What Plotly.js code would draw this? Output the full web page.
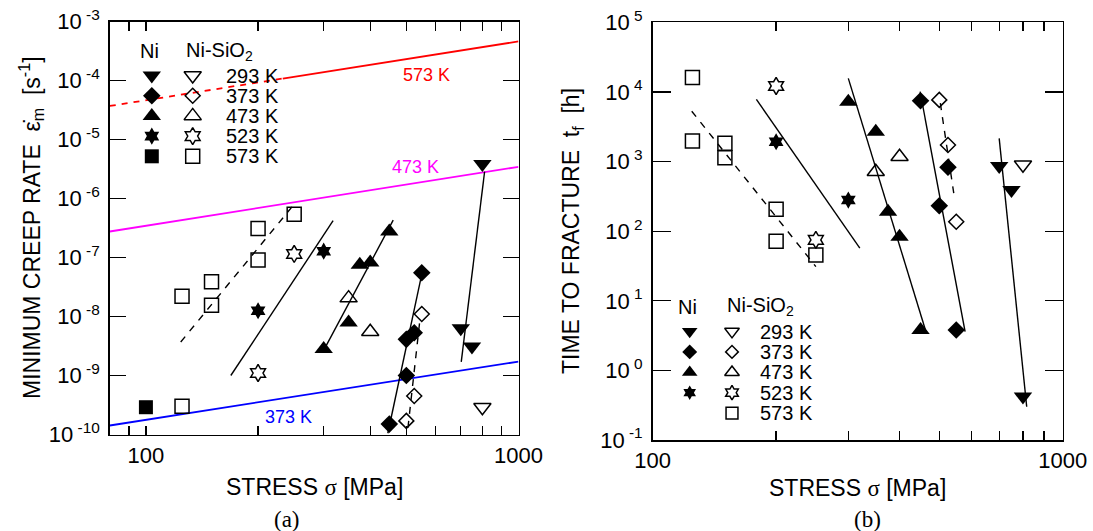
<!DOCTYPE html>
<html><head><meta charset="utf-8">
<script src="https://cdn.plot.ly/plotly-3.0.1.min.js"></script>
<style>html,body{margin:0;padding:0;background:#fff;overflow:hidden}#chart{width:1093px;height:531px}</style>
</head><body><div id="chart"></div>
<script>
// ================= DATA =================
const TEMP_LABELS = ['293 K', '373 K', '473 K', '523 K', '573 K'];

// Panel (a): minimum creep rate [1/s] vs stress [MPa]
const A_NI_293_STRESS = [700, 750, 800];
const A_NI_293_RATE   = [6.3e-9, 3.1e-9, 3.85e-6];
const A_NI_373_STRESS = [450, 500, 500, 525, 550];
const A_NI_373_RATE   = [1.5e-10, 1.0e-9, 4.1e-9, 5.3e-9, 5.5e-8];
const A_NI_473_STRESS = [300, 350, 375, 400, 450];
const A_NI_473_RATE   = [2.8e-9, 7.9e-9, 7.5e-8, 8.2e-8, 2.75e-7];
const A_NI_523_STRESS = [200, 300];
const A_NI_523_RATE   = [1.25e-8, 1.28e-7];
const A_NI_573_STRESS = [100];
const A_NI_573_RATE   = [2.9e-10];

const A_SI_293_STRESS = [800];
const A_SI_293_RATE   = [2.9e-10];
const A_SI_373_STRESS = [500, 525, 550];
const A_SI_373_RATE   = [1.7e-10, 4.5e-10, 1.1e-8];
const A_SI_473_STRESS = [350, 400];
const A_SI_473_RATE   = [2.05e-8, 5.5e-9];
const A_SI_523_STRESS = [200, 250];
const A_SI_523_RATE   = [1.1e-9, 1.15e-7];
const A_SI_573_STRESS = [125, 125, 150, 150, 200, 200, 250];
const A_SI_573_RATE   = [3.0e-10, 2.2e-8, 1.55e-8, 3.9e-8, 9.1e-8, 3.1e-7, 5.4e-7];

// Panel (a) fitted lines
const A_FIT_NI_293_STRESS = [702, 811];   const A_FIT_NI_293_RATE = [1.7e-9, 2.85e-6];
const A_FIT_NI_373_STRESS = [446, 551];   const A_FIT_NI_373_RATE = [1.05e-10, 5.5e-8];
const A_FIT_SI_373_STRESS = [505, 545];   const A_FIT_SI_373_RATE = [1.3e-10, 1.0e-8];
const A_FIT_NI_473_STRESS = [303, 461];   const A_FIT_NI_473_RATE = [3.0e-9, 4.3e-7];
const A_FIT_NI_523_STRESS = [169, 318];   const A_FIT_NI_523_RATE = [1.0e-9, 4.2e-7];
const A_FIT_SI_573_STRESS = [124, 250];   const A_FIT_SI_573_RATE = [3.7e-9, 8.0e-7];

// Panel (a) reference (theory) lines
const A_TH_573_DASH_STRESS = [80, 233];   const A_TH_573_DASH_RATE = [3.7e-5, 1.08e-4];
const A_TH_573_SOLID_STRESS = [233, 1000]; const A_TH_573_SOLID_RATE = [1.08e-4, 4.6e-4];
const A_TH_473_STRESS = [80, 1000];        const A_TH_473_RATE = [2.76e-7, 3.44e-6];
const A_TH_373_STRESS = [80, 1000];        const A_TH_373_RATE = [1.42e-10, 1.72e-9];

// Panel (b): time to fracture [h] vs stress [MPa]
const B_NI_293_STRESS = [700, 750, 800];
const B_NI_293_TIME   = [865, 391, 0.42];
const B_NI_373_STRESS = [450, 500, 525, 550];
const B_NI_373_TIME   = [7500, 232, 828, 3.8];
const B_NI_473_STRESS = [300, 350, 375, 400, 450];
const B_NI_473_TIME   = [7260, 2690, 190, 83, 3.8];
const B_NI_523_STRESS = [200, 300];
const B_NI_523_TIME   = [1930, 280];

const B_SI_293_STRESS = [800];
const B_SI_293_TIME   = [900];
const B_SI_373_STRESS = [500, 525, 550];
const B_SI_373_TIME   = [7700, 1730, 137];
const B_SI_473_STRESS = [350, 400];
const B_SI_473_TIME   = [716, 1175];
const B_SI_523_STRESS = [200, 250];
const B_SI_523_TIME   = [12200, 75];
const B_SI_573_STRESS = [125, 125, 150, 150, 200, 200, 250];
const B_SI_573_TIME   = [16200, 1980, 1830, 1140, 206, 72, 45.5];

// Panel (b) fitted lines
const B_FIT_NI_293_STRESS = [700, 817];   const B_FIT_NI_293_TIME = [2160, 0.30];
const B_FIT_NI_373_STRESS = [449, 578];   const B_FIT_NI_373_TIME = [10090, 3.6];
const B_FIT_SI_373_STRESS = [503, 545];   const B_FIT_SI_373_TIME = [6900, 290];
const B_FIT_NI_473_STRESS = [300, 464];   const B_FIT_NI_473_TIME = [15700, 3.6];
const B_FIT_NI_523_STRESS = [179, 320];   const B_FIT_NI_523_TIME = [7850, 57];
const B_FIT_SI_573_STRESS = [124.5, 250]; const B_FIT_SI_573_TIME = [5300, 31];

// Tick values / labels
const A_X_LABELED = [100, 1000];
const A_X_MINOR = [90, 200, 300, 400, 500, 600, 700, 800, 900];
const A_Y_EXPONENTS = [-10, -9, -8, -7, -6, -5, -4, -3];
const B_X_LABELED = [100, 1000];
const B_X_MINOR = [200, 300, 400, 500, 600, 700, 800, 900];
const B_Y_EXPONENTS = [-1, 0, 1, 2, 3, 4, 5];
const B_Y_MINOR_MANTISSA = [2, 3, 4, 5, 6, 7, 8, 9];

// ================= STYLE / LAYOUT CONFIG =================
const W = 1093, H = 531;
const FONT = 'Liberation Sans, Arial, sans-serif';
const SERIF = 'Liberation Serif, Times New Roman, serif';
const SYM = ['triangle-down', 'diamond', 'triangle-up', 'hexagram', 'square'];
const SIZE_FILLED = [16, 13.5, 16, 13, 14];
const SIZE_OPEN = [15, 11.5, 15, 13, 14];

const traces = [];
function line(xa, ya, x, y, color, width, dash) {
  traces.push({type: 'scatter', mode: 'lines', x: x, y: y, xaxis: xa, yaxis: ya,
    line: {color: color, width: width, dash: dash || 'solid'}, hoverinfo: 'skip', showlegend: false});
}
function pts(xa, ya, x, y, k, open, scale) {
  const s = scale || 1;
  traces.push({type: 'scatter', mode: 'markers', x: x, y: y, xaxis: xa, yaxis: ya, cliponaxis: false,
    marker: {symbol: open ? SYM[k] + '-open' : SYM[k], size: (open ? SIZE_OPEN[k] : SIZE_FILLED[k]) * s,
      color: '#000', line: {color: '#000', width: open ? 1.5 : 0}},
    hoverinfo: 'skip', showlegend: false});
}

// ---- panel (a) lines ----
line('x', 'y', A_TH_573_DASH_STRESS, A_TH_573_DASH_RATE, '#ff0000', 1.8, '6px,6px');
line('x', 'y', A_TH_573_SOLID_STRESS, A_TH_573_SOLID_RATE, '#ff0000', 1.8);
line('x', 'y', A_TH_473_STRESS, A_TH_473_RATE, '#ff00ff', 1.8);
line('x', 'y', A_TH_373_STRESS, A_TH_373_RATE, '#0000ff', 1.8);
line('x', 'y', A_FIT_NI_293_STRESS, A_FIT_NI_293_RATE, '#000', 1.4);
line('x', 'y', A_FIT_NI_373_STRESS, A_FIT_NI_373_RATE, '#000', 1.4);
line('x', 'y', A_FIT_SI_373_STRESS, A_FIT_SI_373_RATE, '#000', 1.4, '7px,7px');
line('x', 'y', A_FIT_NI_473_STRESS, A_FIT_NI_473_RATE, '#000', 1.4);
line('x', 'y', A_FIT_NI_523_STRESS, A_FIT_NI_523_RATE, '#000', 1.4);
line('x', 'y', A_FIT_SI_573_STRESS, A_FIT_SI_573_RATE, '#000', 1.4, '7px,7px');
// ---- panel (a) points ----
pts('x', 'y', A_NI_293_STRESS, A_NI_293_RATE, 0, false);
pts('x', 'y', A_NI_373_STRESS, A_NI_373_RATE, 1, false);
pts('x', 'y', A_NI_473_STRESS, A_NI_473_RATE, 2, false);
pts('x', 'y', A_NI_523_STRESS, A_NI_523_RATE, 3, false);
pts('x', 'y', A_NI_573_STRESS, A_NI_573_RATE, 4, false);
pts('x', 'y', A_SI_293_STRESS, A_SI_293_RATE, 0, true);
pts('x', 'y', A_SI_373_STRESS, A_SI_373_RATE, 1, true);
pts('x', 'y', A_SI_473_STRESS, A_SI_473_RATE, 2, true);
pts('x', 'y', A_SI_523_STRESS, A_SI_523_RATE, 3, true);
pts('x', 'y', A_SI_573_STRESS, A_SI_573_RATE, 4, true);

// ---- panel (b) lines ----
line('x2', 'y2', B_FIT_NI_293_STRESS, B_FIT_NI_293_TIME, '#000', 1.4);
line('x2', 'y2', B_FIT_NI_373_STRESS, B_FIT_NI_373_TIME, '#000', 1.4);
line('x2', 'y2', B_FIT_SI_373_STRESS, B_FIT_SI_373_TIME, '#000', 1.4, '7px,7px');
line('x2', 'y2', B_FIT_NI_473_STRESS, B_FIT_NI_473_TIME, '#000', 1.4);
line('x2', 'y2', B_FIT_NI_523_STRESS, B_FIT_NI_523_TIME, '#000', 1.4);
line('x2', 'y2', B_FIT_SI_573_STRESS, B_FIT_SI_573_TIME, '#000', 1.4, '7px,7px');
// ---- panel (b) points ----
pts('x2', 'y2', B_NI_293_STRESS, B_NI_293_TIME, 0, false);
pts('x2', 'y2', B_NI_373_STRESS, B_NI_373_TIME, 1, false);
pts('x2', 'y2', B_NI_473_STRESS, B_NI_473_TIME, 2, false);
pts('x2', 'y2', B_NI_523_STRESS, B_NI_523_TIME, 3, false);
pts('x2', 'y2', B_SI_293_STRESS, B_SI_293_TIME, 0, true);
pts('x2', 'y2', B_SI_373_STRESS, B_SI_373_TIME, 1, true);
pts('x2', 'y2', B_SI_473_STRESS, B_SI_473_TIME, 2, true);
pts('x2', 'y2', B_SI_523_STRESS, B_SI_523_TIME, 3, true);
pts('x2', 'y2', B_SI_573_STRESS, B_SI_573_TIME, 4, true);

// ---- legend keys (drawn on a page-pixel overlay axis) ----
const LEGENDS = [
  {hx: 149.4, sx: 183.5, hy: 51.2, fx: 151.8, ox: 192.7, tx: 223.5, y0: 75.5, dy: 20.2, nFilled: 5, scale: 1.0},
  {hx: 687.9, sx: 724.5, hy: 306.5, fx: 689.7, ox: 732.0, tx: 758.0, y0: 331.5, dy: 20.4, nFilled: 4, scale: 0.85}
];
const LEGEND_FONT = 20;
const annotations = [];
LEGENDS.forEach(L => {
  annotations.push({xref: 'paper', yref: 'paper', x: L.hx / W, y: 1 - L.hy / H, text: 'Ni', showarrow: false,
    xanchor: 'center', yanchor: 'middle', font: {family: FONT, size: LEGEND_FONT, color: '#000'}});
  annotations.push({xref: 'paper', yref: 'paper', x: L.sx / W, y: 1 - L.hy / H, text: 'Ni-SiO<sub>2</sub>', showarrow: false,
    xanchor: 'left', yanchor: 'middle', font: {family: FONT, size: LEGEND_FONT, color: '#000'}});
  TEMP_LABELS.forEach((t, k) => {
    const yy = L.y0 + k * L.dy;
    if (k < L.nFilled) pts('x3', 'y4', [L.fx], [yy], k, false, L.scale);
    pts('x3', 'y4', [L.ox], [yy], k, true, L.scale);
    annotations.push({xref: 'paper', yref: 'paper', x: L.tx / W, y: 1 - yy / H, text: t, showarrow: false,
      xanchor: 'left', yanchor: 'middle', font: {family: FONT, size: LEGEND_FONT, color: '#000'}});
  });
});

// ---- text labels for theory lines in panel (a) (data coordinates, log units) ----
const LINE_LABELS = [
  {text: '573 K', stress: 567, rate: 1.26e-4, color: '#ff0000'},
  {text: '473 K', stress: 529, rate: 3.38e-6, color: '#ff00ff'},
  {text: '373 K', stress: 242, rate: 1.96e-10, color: '#0000ff'}
];
LINE_LABELS.forEach(l => annotations.push({xref: 'x', yref: 'y', x: Math.log10(l.stress), y: Math.log10(l.rate),
  text: l.text, showarrow: false, xanchor: 'center', yanchor: 'middle', font: {family: FONT, size: 18, color: l.color}}));

// ---- axis titles & panel labels ----
const SIG = '<span style="font-family:' + SERIF + '">σ</span>';
const TITLES = [
  {text: 'STRESS ' + SIG + ' [MPa]', x: 314.5, y: 487, angle: 0},
  {text: 'STRESS ' + SIG + ' [MPa]', x: 857.5, y: 488, angle: 0},
  {text: 'MINIMUM CREEP RATE\u00a0\u00a0ε\u0307<sub>m</sub>\u00a0\u00a0[s<sup>-1</sup>]', x: 31, y: 228, angle: -90},
  {text: 'TIME TO FRACTURE\u00a0\u00a0t<sub>f</sub>\u00a0\u00a0[h]', x: 572, y: 231, angle: -90}
];
TITLES.forEach(t => annotations.push({xref: 'paper', yref: 'paper', x: t.x / W, y: 1 - t.y / H, text: t.text,
  textangle: t.angle, showarrow: false, xanchor: 'center', yanchor: 'middle', font: {family: FONT, size: 23, color: '#000'}}));
[{text: '(a)', x: 287, y: 519}, {text: '(b)', x: 867.6, y: 519}].forEach(t => annotations.push({
  xref: 'paper', yref: 'paper', x: t.x / W, y: 1 - t.y / H, text: t.text, showarrow: false,
  xanchor: 'center', yanchor: 'middle', font: {family: SERIF, size: 23, color: '#000'}}));

function pow10Text(e) { return '10<sup> ' + (e < 0 ? '-' : '') + Math.abs(e) + '</sup>'; }
const axisCommon = {type: 'log', showgrid: false, zeroline: false, showline: true, linecolor: '#000', linewidth: 1.6,
  ticks: 'inside', tickcolor: '#000', tickwidth: 1.3, mirror: 'ticks', tickmode: 'array',
  tickfont: {family: FONT, size: 22, color: '#000'}, fixedrange: true};

// Plot-area pixel boxes
const BOX_A = {l: 109.8, r: 518.5, t: 21.5, b: 434.5};
const BOX_B = {l: 652.7, r: 1062.7, t: 22.4, b: 440};

const layout = {
  width: W, height: H, margin: {l: 0, r: 0, t: 0, b: 0, pad: 0},
  paper_bgcolor: '#fff', plot_bgcolor: 'rgba(0,0,0,0)', showlegend: false,
  font: {family: FONT, color: '#000'},
  xaxis: Object.assign({}, axisCommon, {domain: [BOX_A.l / W, BOX_A.r / W], anchor: 'y',
    range: [Math.log10(80), 3], tickvals: A_X_LABELED, ticktext: A_X_LABELED.map(String), ticklen: 9,
    minor: {tickmode: 'array', tickvals: A_X_MINOR, ticks: 'inside', ticklen: 9, tickwidth: 1.3, tickcolor: '#000', showgrid: false}}),
  yaxis: Object.assign({}, axisCommon, {domain: [1 - BOX_A.b / H, 1 - BOX_A.t / H], anchor: 'x',
    range: [-10, -3], tickvals: A_Y_EXPONENTS.map(e => Math.pow(10, e)), ticktext: A_Y_EXPONENTS.map(pow10Text),
    ticklen: 16, ticklabelstandoff: 4}),
  xaxis2: Object.assign({}, axisCommon, {domain: [BOX_B.l / W, BOX_B.r / W], anchor: 'y2',
    range: [2, 3], tickvals: B_X_LABELED, ticktext: B_X_LABELED.map(String), ticklen: 9,
    minor: {tickmode: 'array', tickvals: B_X_MINOR, ticks: 'inside', ticklen: 9, tickwidth: 1.3, tickcolor: '#000', showgrid: false}}),
  yaxis2: Object.assign({}, axisCommon, {domain: [1 - BOX_B.b / H, 1 - BOX_B.t / H], anchor: 'x2',
    range: [-1, 5], tickvals: B_Y_EXPONENTS.map(e => Math.pow(10, e)), ticktext: B_Y_EXPONENTS.map(pow10Text),
    ticklen: 18, ticklabelstandoff: 4}),
  yaxis3: {type: 'log', overlaying: 'y2', side: 'right', anchor: 'x2', range: [-1, 5], showgrid: false,
    zeroline: false, showline: false, ticks: 'inside', ticklen: 8, tickwidth: 1.2, tickcolor: '#000',
    showticklabels: false, tickmode: 'array', fixedrange: true,
    tickvals: B_Y_EXPONENTS.slice(0, -1).flatMap(e => B_Y_MINOR_MANTISSA.map(m => m * Math.pow(10, e)))},
  xaxis3: {domain: [0, 1], range: [0, W], visible: false, anchor: 'y4', fixedrange: true},
  yaxis4: {domain: [0, 1], range: [H, 0], visible: false, anchor: 'x3', fixedrange: true},
  annotations: annotations
};

Plotly.newPlot('chart', traces, layout, {staticPlot: true, displayModeBar: false});
</script>
</body></html>
